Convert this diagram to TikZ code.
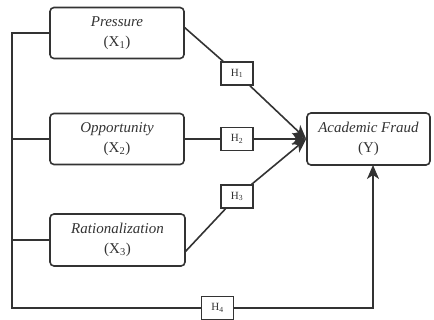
\documentclass[tikz,border=0pt]{standalone}
\usepackage{fontspec}
\setmainfont{Liberation Serif}
\usetikzlibrary{arrows.meta}
\definecolor{ink}{HTML}{333333}
\tikzset{
  varbox/.style={draw=ink, line width=1.6pt, rounded corners=4pt, minimum width=134pt, minimum height=51pt, inner sep=0pt, align=center, text=ink, font=\fontsize{15}{20}\selectfont},
  hbox/.style={draw=ink, line width=1.4pt, fill=white, minimum width=32pt, minimum height=23pt, inner sep=0pt, text=ink, font=\fontsize{11}{13}\selectfont},
  conn/.style={draw=ink, line width=1.6pt},
  arr/.style={conn, -{Stealth[length=14pt,width=12pt,inset=4pt]}}
}
\begin{document}
\begin{tikzpicture}[x=1pt,y=-1pt]
\useasboundingbox (0,0) rectangle (434,320);
\node[varbox] (p) at (117,33) {\textit{Pressure}\\(X\textsubscript{1})};
\node[varbox] (o) at (117,139) {\textit{Opportunity}\\(X\textsubscript{2})};
\node[varbox, minimum width=135pt, minimum height=52pt] (r) at (117.5,240) {\textit{Rationalization}\\(X\textsubscript{3})};
\node[varbox, minimum width=123pt, minimum height=52pt] (y) at (368.5,139) {\textit{Academic Fraud}\\(Y)};
\node[hbox] (h1) at (237,73.5) {H\textsubscript{1}};
\node[hbox] (h2) at (237,139) {H\textsubscript{2}};
\node[hbox] (h3) at (237,196.5) {H\textsubscript{3}};
\node[hbox] (h4) at (217.5,308) {H\textsubscript{4}};
\coordinate (pa) at (184,27);
\coordinate (ra) at (185,252);
\coordinate (lt) at (12,33);
\coordinate (lb) at (12,308);
\coordinate (rb) at (373,308);
\coordinate (yb) at (373,165);
\draw[conn] (pa) -- (h1);
\draw[arr] (h1) -- (y.west);
\draw[conn] (o.east) -- (h2);
\draw[arr] (h2) -- (y.west);
\draw[conn] (ra) -- (h3);
\draw[arr] (h3) -- (y.west);
\draw[conn] (p.west) -- (lt) -- (lb) -- (h4);
\draw[arr] (h4) -- (rb) -- (yb);
\draw[conn] (lt |- o.west) -- (o.west);
\draw[conn] (lt |- r.west) -- (r.west);
\end{tikzpicture}
\end{document}
